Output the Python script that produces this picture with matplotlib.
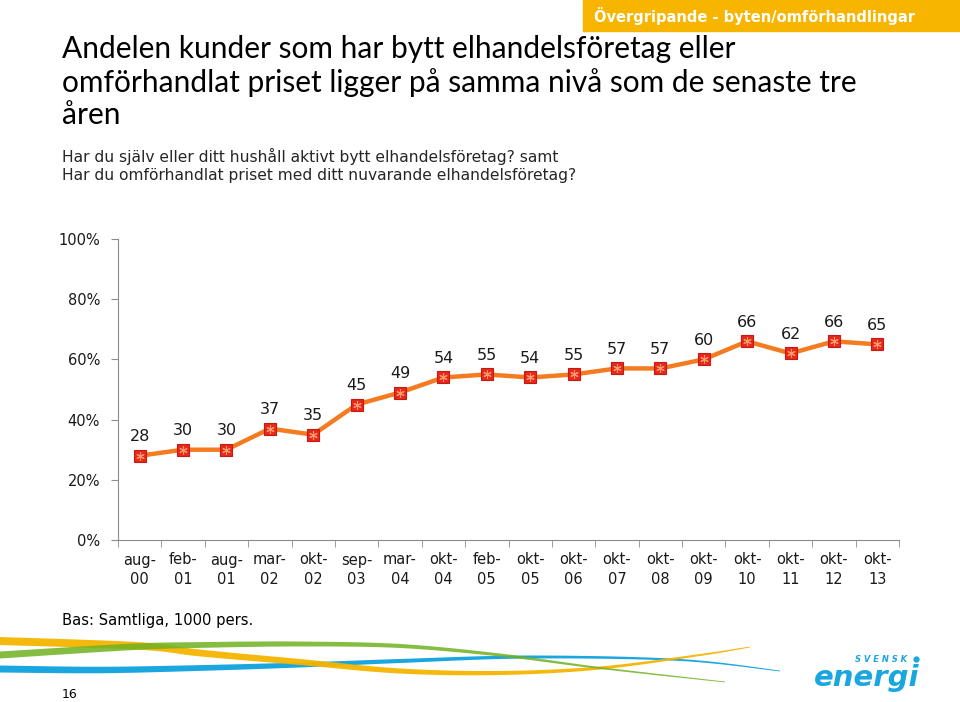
import numpy as np
import matplotlib
matplotlib.use("Agg")
import matplotlib.pyplot as plt
from matplotlib.ticker import FixedLocator, PercentFormatter

plt.rcParams["font.family"] = ["DejaVu Sans"]

# ---------------- data ----------------
categories = ["aug-\n00", "feb-\n01", "aug-\n01", "mar-\n02", "okt-\n02", "sep-\n03",
              "mar-\n04", "okt-\n04", "feb-\n05", "okt-\n05", "okt-\n06", "okt-\n07",
              "okt-\n08", "okt-\n09", "okt-\n10", "okt-\n11", "okt-\n12", "okt-\n13"]
values = [28, 30, 30, 37, 35, 45, 49, 54, 55, 54, 55, 57, 57, 60, 66, 62, 66, 65]
yticks = [0, 20, 40, 60, 80, 100]

title = "Andelen kunder som har bytt elhandelsföretag eller\nomförhandlat priset ligger på samma nivå som de senaste tre\nåren"
subtitle = "Har du själv eller ditt hushåll aktivt bytt elhandelsföretag? samt\nHar du omförhandlat priset med ditt nuvarande elhandelsföretag?"
header = "Övergripande - byten/omförhandlingar"
base_note = "Bas: Samtliga, 1000 pers."
page_no = "16"

W, H = 960, 702
fig = plt.figure(figsize=(W / 100, H / 100), dpi=100)
fig.patch.set_facecolor("white")

# ---------------- background / decoration layer ----------------
bg = fig.add_axes([0, 0, 1, 1])
bg.set_xlim(0, W)
bg.set_ylim(H, 0)
bg.axis("off")

# header box
bg.add_patch(plt.Rectangle((583, 0), W - 583, 31, color="#F7B500", zorder=1))
bg.text(594, 16, header, color="white", fontsize=10.5, fontweight="bold",
        family="DejaVu Sans", va="center", ha="left", zorder=2)

# title & subtitle
bg.text(62, 82, title, fontsize=21.5, family="Lato", color="black",
        va="center", ha="left", linespacing=1.18)
bg.text(62, 165, subtitle, fontsize=11.2, family="DejaVu Sans", color="#262626",
        va="center", ha="left", linespacing=1.25)

bg.text(62, 621, base_note, fontsize=10.6, family="DejaVu Sans", color="black",
        va="center", ha="left")
bg.text(62, 695, page_no, fontsize=9, family="DejaVu Sans", color="black",
        va="center", ha="left")


def swoosh(px, py, w0, w1, color, alpha=1.0, z=1):
    px = np.asarray(px, float)
    py = np.asarray(py, float)
    xs, ys = [], []
    P = np.column_stack([px, py])
    P = np.vstack([P[0], P, P[-1]])
    for i in range(1, len(P) - 2):
        p0, p1, p2, p3 = P[i - 1], P[i], P[i + 1], P[i + 2]
        t = np.linspace(0, 1, 30, endpoint=False)[:, None]
        seg = 0.5 * ((2 * p1) + (-p0 + p2) * t + (2 * p0 - 5 * p1 + 4 * p2 - p3) * t ** 2
                     + (-p0 + 3 * p1 - 3 * p2 + p3) * t ** 3)
        xs.append(seg[:, 0])
        ys.append(seg[:, 1])
    xs = np.concatenate(xs + [[px[-1]]])
    ys = np.concatenate(ys + [[py[-1]]])
    s = np.linspace(0, 1, len(xs))
    w = w0 + (w1 - w0) * s ** 1.3
    upper = np.column_stack([xs, ys - w / 2])
    lower = np.column_stack([xs, ys + w / 2])[::-1]
    bg.add_patch(plt.Polygon(np.vstack([upper, lower]), closed=True, color=color,
                             alpha=alpha, lw=0, zorder=z))


swoosh([0, 100, 200, 300, 400, 530, 680, 780], [669, 670, 668, 665, 661, 657, 660, 671],
       7, 0.8, "#1AA7E0", 1.0, 1)
swoosh([0, 140, 200, 300, 400, 500, 600, 700, 750], [641, 646, 653, 662, 671, 673, 668, 655, 647],
       8, 0.8, "#F5B400", 0.95, 2)
swoosh([0, 130, 200, 300, 400, 500, 600, 725], [655, 647, 645, 644, 646, 655, 668, 682],
       7, 0.8, "#6FB21F", 0.85, 3)

bg.text(881, 659, "S V E N S K", fontsize=6, fontweight="bold", style="italic",
        color="#1AA7E0", family="DejaVu Sans", ha="center", va="center")
bg.plot([916], [659], "o", color="#1AA7E0", ms=3.5)
bg.text(867, 678, "energi", fontsize=21, fontweight="bold", style="italic",
        color="#1AA7E0", family="DejaVu Sans", ha="center", va="center")

# ---------------- chart ----------------
ax = fig.add_axes([118 / W, 1 - 540 / H, (899 - 118) / W, (540 - 239) / H])
ax.set_facecolor("none")
x = np.arange(len(values))
ax.plot(x, values, color="#F47B20", lw=3.2, zorder=3, solid_capstyle="round")
ax.plot(x, values, ls="none", marker="s", ms=9, mfc="#E8281C", mec="#C41A10",
        mew=0.8, zorder=4)
ax.plot(x, values, ls="none", marker=(6, 2, 0), ms=6, mec="#FF9A6A",
        mew=0.8, zorder=5)

for xi, v in zip(x, values):
    ax.annotate(f"{v}", (xi, v), xytext=(0, 13.5), textcoords="offset points",
                ha="center", va="center", fontsize=11.5, family="DejaVu Sans",
                color="#1a1a1a")

ax.set_xlim(-0.5, len(values) - 0.5)
ax.set_ylim(0, 100)
ax.yaxis.set_major_locator(FixedLocator(yticks))
ax.yaxis.set_major_formatter(PercentFormatter(decimals=0))
ax.set_xticks(x)
ax.set_xticklabels(categories, fontsize=10.5, family="DejaVu Sans", color="#1a1a1a",
                   linespacing=1.35)
ax.tick_params(axis="x", length=0, pad=9)
ax.set_xticks(np.arange(-0.5, len(values)), minor=True)
ax.tick_params(axis="x", which="minor", length=5, color="#8c8c8c", direction="out")
ax.tick_params(axis="y", length=5, color="#8c8c8c", labelsize=10.5, pad=8,
               labelcolor="#1a1a1a")

for s in ["top", "right"]:
    ax.spines[s].set_visible(False)
ax.spines["left"].set_color("#8c8c8c")
ax.spines["bottom"].set_color("#8c8c8c")
ax.spines["left"].set_linewidth(0.8)
ax.spines["bottom"].set_linewidth(0.8)

fig.savefig("out.png", dpi=100)
